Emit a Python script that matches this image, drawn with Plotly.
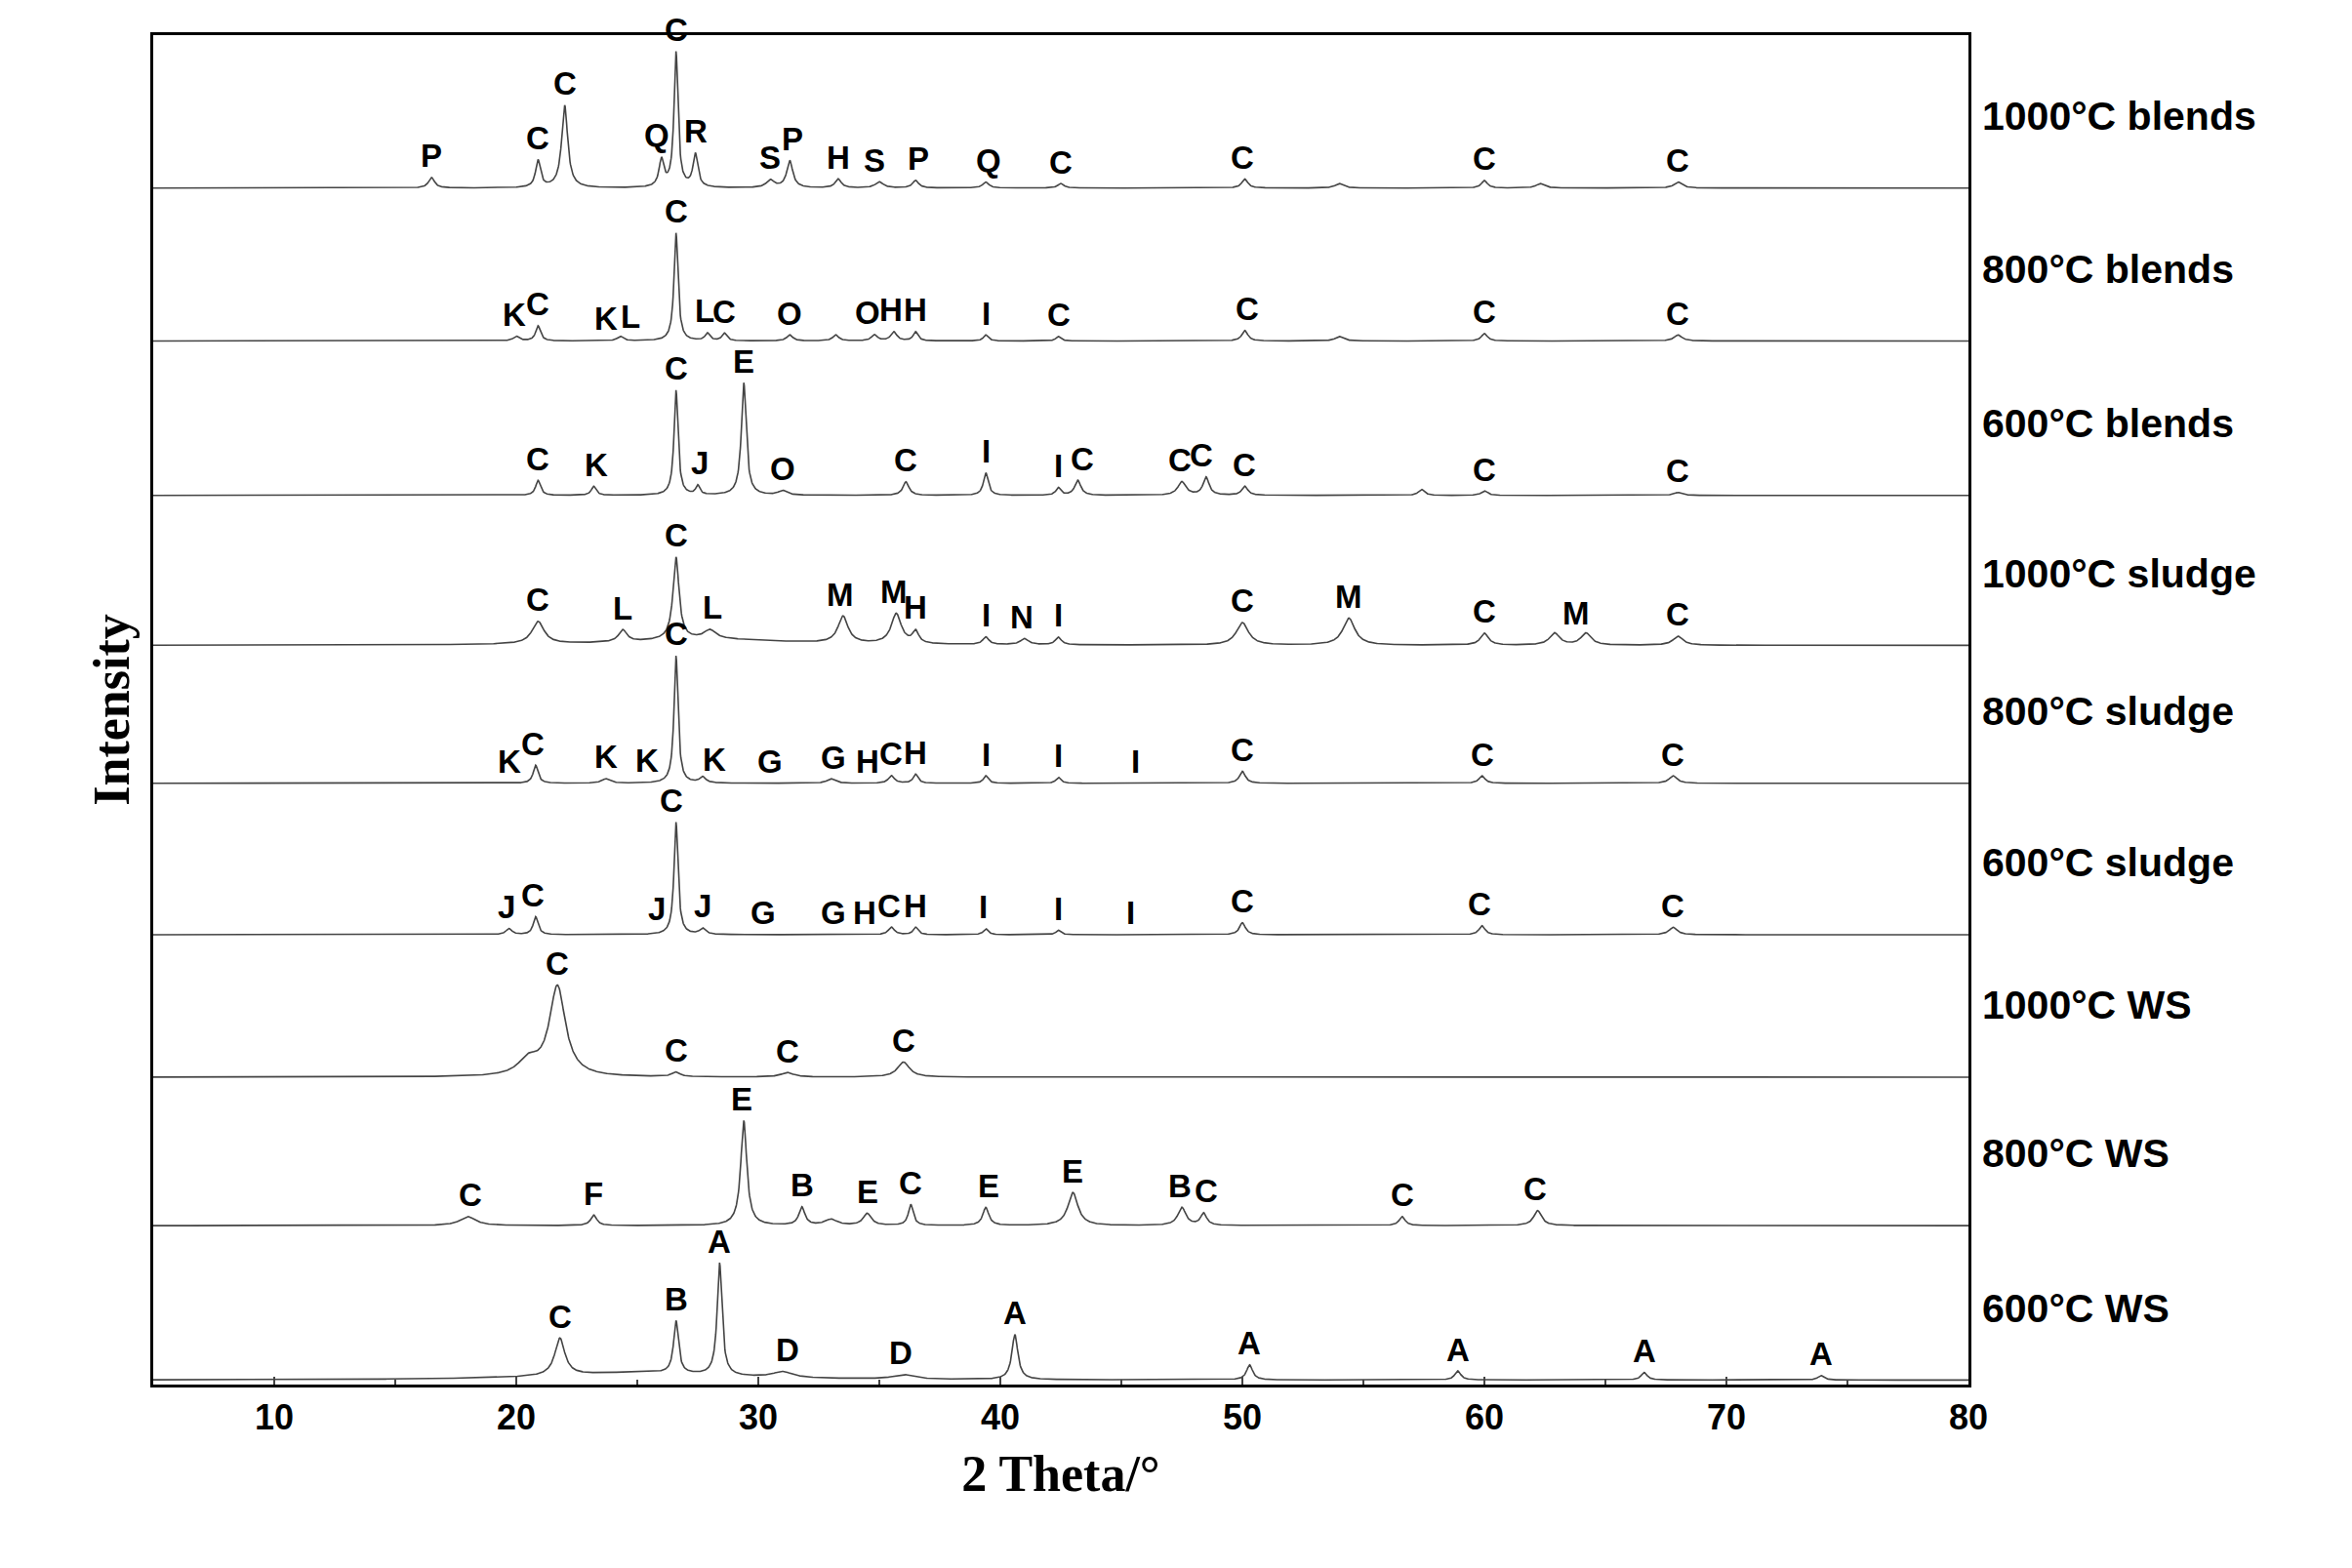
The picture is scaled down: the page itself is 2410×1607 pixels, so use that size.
import numpy as np
import plotly.graph_objects as go

names = ["600°C WS", "800°C WS", "1000°C WS", "600°C sludge", "800°C sludge",
         "1000°C sludge", "600°C blends", "800°C blends", "1000°C blends"]
offsets = [3, 106, 205, 300, 401, 493, 593, 696, 798]

# peaks: (2theta, height, half width)
peaks = [
    [(21.8, 25, 0.25), (26.6, 35, 0.12), (28.4, 75, 0.12), (31, 4, 0.5), (36, 3, 0.5), (40.6, 30, 0.15),
     (50.3, 10, 0.15), (58.9, 6, 0.15), (66.6, 5, 0.15), (73.9, 3, 0.15), (25, 5, 4.0)],
    [(18, 6, 0.4), (23.2, 7, 0.15), (29.4, 70, 0.15), (31.8, 12, 0.15), (33, 4, 0.3), (34.5, 8, 0.2), (36.3, 14, 0.12),
     (39.4, 12, 0.15), (43, 22, 0.25), (47.5, 12, 0.2), (48.4, 8, 0.15), (56.6, 6, 0.15), (62.2, 10, 0.2)],
    [(21.7, 60, 0.4), (20.5, 10, 0.5), (26.6, 3, 0.2), (31.2, 3, 0.3), (36, 10, 0.3)],
    [(19.7, 4, 0.15), (20.8, 12, 0.12), (26.6, 75, 0.1), (27.7, 4, 0.15), (35.5, 5, 0.15), (36.5, 5, 0.12),
     (39.4, 4, 0.12), (42.4, 3, 0.12), (50, 8, 0.15), (59.9, 6, 0.15), (67.8, 5, 0.2)],
    [(20.8, 12, 0.12), (23.7, 3, 0.2), (26.6, 85, 0.1), (27.7, 4, 0.15), (33, 3, 0.2), (35.5, 5, 0.15),
     (36.5, 6, 0.12), (39.4, 5, 0.12), (42.4, 4, 0.12), (50, 8, 0.15), (59.9, 5, 0.15), (67.8, 5, 0.2)],
    [(20.9, 15, 0.3), (24.4, 8, 0.2), (26.6, 55, 0.15), (28, 6, 0.3), (33.5, 18, 0.25), (35.7, 20, 0.25),
     (36.5, 8, 0.15), (39.4, 5, 0.15), (41, 4, 0.2), (42.4, 5, 0.15), (50, 15, 0.3), (54.4, 18, 0.3),
     (60, 8, 0.2), (62.9, 8, 0.25), (64.2, 8, 0.25), (68, 6, 0.25), (28, 4, 4.0)],
    [(20.9, 10, 0.12), (23.2, 6, 0.12), (26.6, 70, 0.1), (27.5, 6, 0.1), (29.4, 75, 0.12), (31, 3, 0.2),
     (36.1, 9, 0.15), (39.4, 15, 0.12), (42.4, 5, 0.12), (43.2, 10, 0.15), (47.5, 9, 0.2), (48.5, 12, 0.15),
     (50.1, 6, 0.15), (57.4, 4, 0.15), (60, 3, 0.15), (68, 2, 0.2)],
    [(20, 3, 0.15), (20.9, 10, 0.12), (24.3, 3, 0.15), (26.6, 72, 0.1), (27.9, 5, 0.12), (28.6, 5, 0.12),
     (31.3, 4, 0.15), (33.2, 4, 0.15), (34.8, 4, 0.15), (35.6, 6, 0.15), (36.5, 6, 0.12), (39.4, 4, 0.12),
     (42.4, 3, 0.12), (50.1, 7, 0.15), (54, 3, 0.2), (60, 5, 0.15), (68, 4, 0.2)],
    [(16.5, 7, 0.15), (20.9, 18, 0.12), (22, 55, 0.15), (26, 18, 0.12), (26.6, 90, 0.1), (27.4, 22, 0.12),
     (30.5, 5, 0.2), (31.3, 18, 0.15), (33.3, 6, 0.15), (35, 4, 0.2), (36.5, 5, 0.15), (39.4, 4, 0.15),
     (42.5, 3, 0.15), (50.1, 6, 0.15), (54, 3, 0.2), (60, 5, 0.15), (62.3, 3, 0.2), (68, 4, 0.2)],
]

labels = [
    [("C", 21.8), ("B", 26.6), ("A", 28.4), ("D", 31.2), ("D", 35.9), ("A", 40.6), ("A", 50.3), ("A", 58.9), ("A", 66.6), ("A", 73.9)],
    [("C", 18.1), ("F", 23.2), ("E", 29.3), ("B", 31.8), ("E", 34.5), ("C", 36.3), ("E", 39.5), ("E", 43), ("B", 47.4), ("C", 48.5), ("C", 56.6), ("C", 62.1)],
    [("C", 21.7), ("C", 26.6), ("C", 31.2), ("C", 36)],
    [("J", 19.6), ("C", 20.7), ("J", 25.8), ("C", 26.4), ("J", 27.7), ("G", 30.2), ("G", 33.1), ("H", 34.4), ("C", 35.4), ("H", 36.5), ("I", 39.3), ("I", 42.4), ("I", 45.4), ("C", 50), ("C", 59.8), ("C", 67.8)],
    [("K", 19.7), ("C", 20.7), ("K", 23.7), ("K", 25.4), ("C", 26.6), ("K", 28.2), ("G", 30.5), ("G", 33.1), ("H", 34.5), ("C", 35.5), ("H", 36.5), ("I", 39.4), ("I", 42.4), ("I", 45.6), ("C", 50), ("C", 59.9), ("C", 67.8)],
    [("C", 20.9), ("L", 24.4), ("C", 26.6), ("L", 28.1), ("M", 33.4), ("M", 35.6), ("H", 36.5), ("I", 39.4), ("N", 40.9), ("I", 42.4), ("C", 50), ("M", 54.4), ("C", 60), ("M", 63.8), ("C", 68)],
    [("C", 20.9), ("K", 23.3), ("C", 26.6), ("J", 27.6), ("E", 29.4), ("O", 31), ("C", 36.1), ("I", 39.4), ("I", 42.4), ("C", 43.4), ("C", 47.4), ("C", 48.3), ("C", 50.1), ("C", 60), ("C", 68)],
    [("K", 19.9), ("C", 20.9), ("K", 23.7), ("L", 24.7), ("C", 26.6), ("L", 27.8), ("C", 28.6), ("O", 31.3), ("O", 34.5), ("H", 35.5), ("H", 36.5), ("I", 39.4), ("C", 42.4), ("C", 50.2), ("C", 60), ("C", 68)],
    [("P", 16.5), ("C", 20.9), ("C", 22), ("Q", 25.8), ("C", 26.6), ("R", 27.4), ("S", 30.5), ("P", 31.4), ("H", 33.3), ("S", 34.8), ("P", 36.6), ("Q", 39.5), ("C", 42.5), ("C", 50), ("C", 60), ("C", 68)],
]

x = np.arange(5, 80.001, 0.02)
fig = go.Figure()
for name, off, pk, lab in zip(names, offsets, peaks, labels):
    y = np.full_like(x, off, dtype=float)
    for pos, h, w in pk:
        y += h * w**2 / ((x - pos)**2 + w**2)
    fig.add_trace(go.Scatter(x=x, y=y, mode="lines", line=dict(color="#444", width=1.6),
                             showlegend=False, hoverinfo="skip"))
    for letter, lx in lab:
        m = (x > lx - 0.3) & (x < lx + 0.3)
        fig.add_annotation(x=lx, y=y[m].max() + 1, text="<b>%s</b>" % letter, showarrow=False, yanchor="bottom",
                           font=dict(family="Liberation Sans", size=33, color="black"))
    fig.add_annotation(x=1.0, xref="paper", xanchor="left", xshift=12, y=off + 48, text="<b>%s</b>" % name,
                       showarrow=False, font=dict(family="Liberation Sans", size=41, color="black"))

fig.update_layout(
    width=2410, height=1607, plot_bgcolor="white", paper_bgcolor="white",
    margin=dict(l=149, r=401, t=28, b=196),
    xaxis=dict(range=[5, 80], dtick=10, tick0=0, ticks="inside", ticklen=8, tickwidth=2,
               minor=dict(ticks="inside", ticklen=5, dtick=5),
               showline=True, linewidth=3, linecolor="black", mirror=True, showgrid=False, zeroline=False,
               tickfont=dict(family="Liberation Sans", size=36, color="black", weight="bold"),
               title=dict(text="<b>2 Theta/°</b>", font=dict(family="Liberation Serif", size=52, color="black"), standoff=20)),
    yaxis=dict(range=[0, 900], showticklabels=False, ticks="", showline=True, linewidth=3, linecolor="black",
               mirror=True, showgrid=False, zeroline=False,
               title=dict(text="<b>Intensity</b>", font=dict(family="Liberation Serif", size=52, color="black"), standoff=5)),
)
fig.write_html("out.html")
